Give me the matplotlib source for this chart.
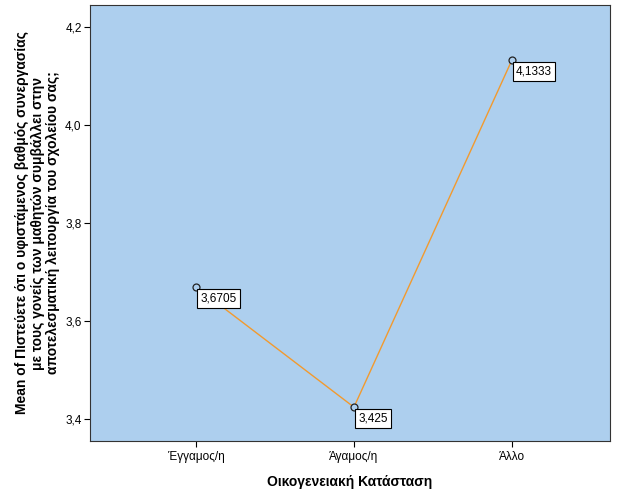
import matplotlib.pyplot as plt
from matplotlib.ticker import FuncFormatter

plt.rcParams['font.family'] = ['Liberation Sans', 'DejaVu Sans']

categories = ['Έγγαμος/η', 'Άγαμος/η', 'Άλλο']
means = [3.6705, 3.425, 4.1333]
labels = ['3,6705', '3,425', '4,1333']

bg = '#ADCFEE'
fig = plt.figure(figsize=(6.26, 5.01), dpi=100)
ax = fig.add_axes([0.1438, 0.1198, 0.8306, 0.870])
ax.set_facecolor(bg)

x = list(range(len(categories)))
ax.plot(x, means, color='#F29A2E', lw=1.0, zorder=2)
ax.plot(x, means, 'o', ms=5, mfc=bg, mec='#222222', mew=0.9, zorder=3)

for xi, yi, t in zip(x, means, labels):
    ax.annotate(t, (xi, yi), xytext=(3, -4), textcoords='offset points',
                ha='left', va='top', fontsize=8.5,
                bbox=dict(boxstyle='square,pad=0.28', fc='white', ec='black', lw=0.8),
                zorder=4)

ax.set_xlim(-0.67, 2.62)
ax.set_ylim(3.356, 4.245)
ax.set_xticks(x)
ax.set_xticklabels(categories, fontsize=8.5)
ax.set_yticks([3.4, 3.6, 3.8, 4.0, 4.2])
ax.yaxis.set_major_formatter(FuncFormatter(lambda v, p: f'{v:.1f}'.replace('.', ',')))
ax.tick_params(axis='both', labelsize=8.5, length=4, width=0.8, color='black')
ax.tick_params(axis='y', pad=2)

for s in ax.spines.values():
    s.set_linewidth(0.8)
    s.set_color('#333333')

ax.set_xlabel('Οικογενειακή Κατάσταση', fontsize=10, fontweight='bold', labelpad=8)
ax.set_ylabel('Mean of Πιστεύετε ότι ο υφιστάμενος βαθμός συνεργασίας\n'
              'με τους γονείς των μαθητών συμβάλλει στην\n'
              'αποτελεσματική λειτουργία του σχολείου σας;',
              fontsize=10, fontweight='bold', labelpad=3.5, linespacing=1.15)

fig.savefig('out.png', dpi=100)
